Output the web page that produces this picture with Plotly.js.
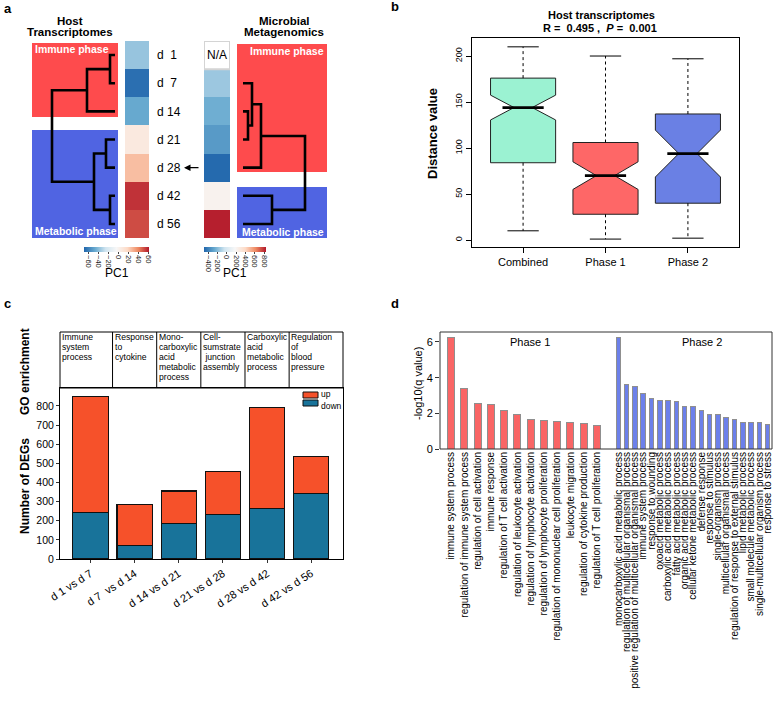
<!DOCTYPE html>
<html><head><meta charset="utf-8">
<script src="https://cdn.plot.ly/plotly-3.0.1.min.js"></script>
<style>html,body{margin:0;padding:0;background:#fff}#chart{width:778px;height:701px}</style>
</head><body><div id="chart"></div>
<script>
// ================= DATA =================
// Panel a
const days = ['d\u00a0\u00a01','d\u00a0\u00a07','d 14','d 21','d 28','d 42','d 56'];
const hostPC1 = [-38,-67,-48,7,26,57,52];
const microPC1 = [null,-159,-253,-319,-480,215,830];
// hclust-style merges: negative = leaf (row index + 1), positive = earlier merge step
const hostMergeA = [-1,-6,-4,1,3,4];
const hostMergeB = [-2,-7,-5,-3,2,5];
const hostMergeH = [5,5,9,28,21,63];
const microMergeA = [-3,-2,2,-6,3];
const microMergeB = [-4,1,-5,-7,4];
const microMergeH = [5,9,18,29,62];
const hostTicks = [-60,-40,-20,0,20,40,60];
const microTicks = [-400,-200,0,200,400,600,800];

// Panel b
const boxGroups = ['Combined','Phase 1','Phase 2'];
const boxLower = [10,1,2];
const boxQ1 = [84,28,40];
const boxMedian = [144,70,94];
const boxQ3 = [176,106,137];
const boxUpper = [210,200,197];
const boxNotch = [13.5,15,25.5];
const boxTicks = [0,50,100,150,200];

// Panel c
const degPairs = ['d 1 vs d 7','d 7\u00a0\u00a0vs d 14','d 14 vs d 21','d 21 vs d 28','d 28 vs d 42','d 42 vs d 56'];
const degDown = [244,72,187,234,265,342];
const degUp = [607,211,169,223,525,193];
const goTerms = [['Immune','system','process'],['Response','to','cytokine'],['Mono-','carboxylic','acid','metabolic','process'],['Cell-','sumstrate','\u00a0junction','assembly'],['Carboxylic','acid','metabolic','process'],['Regulation','of','blood','pressure']];

// Panel d
const phase1Terms = ['immune system process','regulation of immune system process','regulation of cell activation','immune response','regulation of T cell activation','regulation of leukocyte activation','regulation of lymphocyte activation','regulation of lymphocyte proliferation','regulation of mononuclear cell proliferation','leukocyte migration','regulation of cytokine production','regulation of T cell proliferation'];
const phase1Q = [6.24,3.40,2.55,2.52,2.14,1.91,1.64,1.62,1.56,1.47,1.41,1.30];
const phase2Terms = ['monocarboxylic acid metabolic process','regulation of multicellular organismal process','positive regulation of multicellular organismal process','immune system process','response to wounding','oxoacid metabolic process','carboxylic acid metabolic process','fatty acid metabolic process','organic acid metabolic process','cellular ketone metabolic process','defense response','response to stimulus','single-organism process','multicellular organismal process','regulation of response to external stimulus','lipid metabolic process','small molecule metabolic process','single-multicellular organism process','response to stress'];
const phase2Q = [6.24,3.62,3.49,3.12,2.84,2.70,2.70,2.66,2.38,2.38,2.14,1.95,1.95,1.75,1.67,1.51,1.51,1.47,1.36];

// ================= HELPERS =================
const W = 778, H = 701;
const px = v => v / W;
const py = v => 1 - v / H;
const domX = (a, b) => [px(a), px(b)];
const domY = (a, b) => [py(b), py(a)];
const FONT = 'Liberation Sans, Arial, Helvetica, sans-serif';
const RDBU = [[0,'#2166ac'],[1/6,'#67a9cf'],[2/6,'#d1e5f0'],[0.5,'#f7f7f7'],[4/6,'#fddbc7'],[5/6,'#ef8a62'],[1,'#b2182b']];

function dendro(A, B, Hs) {
  const nodeY = [], nodeH = [], xs = [], ys = [];
  const pos = id => id < 0 ? {y: -id - 1, h: 0} : {y: nodeY[id - 1], h: nodeH[id - 1]};
  for (let k = 0; k < A.length; k++) {
    const a = pos(A[k]), b = pos(B[k]), h = Hs[k];
    xs.push(a.h, h, h, b.h, null);
    ys.push(a.y, a.y, b.y, b.y, null);
    nodeY.push((a.y + b.y) / 2); nodeH.push(h);
  }
  return {xs, ys};
}

const annotations = [];
function ann(text, x, y, o) {
  annotations.push(Object.assign({text, x: px(x), y: py(y), xref: 'paper', yref: 'paper',
    showarrow: false, xanchor: 'center', yanchor: 'middle',
    font: {family: FONT, size: 11, color: '#000'}}, o || {}));
}
const shapes = [];
function prect(x0, y0, x1, y1, o) {
  shapes.push(Object.assign({type: 'rect', xref: 'paper', yref: 'paper', x0: px(x0), x1: px(x1), y0: py(y0), y1: py(y1)}, o));
}

const traces = [];

// ================= PANEL A =================
const hd = dendro(hostMergeA, hostMergeB, hostMergeH);
traces.push({type: 'scatter', mode: 'lines', x: hd.xs, y: hd.ys, xaxis: 'x', yaxis: 'y',
  line: {color: '#000', width: 2.6}, hoverinfo: 'skip', connectgaps: false});
const md = dendro(microMergeA, microMergeB, microMergeH);
traces.push({type: 'scatter', mode: 'lines', x: md.xs, y: md.ys, xaxis: 'x4', yaxis: 'y',
  line: {color: '#000', width: 2.6}, hoverinfo: 'skip', connectgaps: false});

const cbBase = {orientation: 'h', xanchor: 'center', y: py(247), yanchor: 'top',
  lenmode: 'pixels', thickness: 5, outlinewidth: 0, xpad: 0, ypad: 0,
  tickmode: 'array', tickangle: 90, ticks: 'outside', ticklen: 2, tickcolor: '#444',
  ticklabeloverflow: 'allow', tickfont: {family: FONT, size: 7.5, color: '#222'}};
traces.push({type: 'heatmap', x: [0], y: days.map((d, i) => i), z: hostPC1.map(v => [v]),
  xaxis: 'x2', yaxis: 'y', colorscale: RDBU, zmin: -70, zmax: 62, hoverinfo: 'skip',
  colorbar: Object.assign({}, cbBase, {x: px(116.5), len: 65, tickvals: hostTicks})});
traces.push({type: 'heatmap', x: [0], y: days.map((d, i) => i), z: microPC1.map(v => [v]),
  xaxis: 'x3', yaxis: 'y', colorscale: RDBU, zmin: -493, zmax: 843, hoverinfo: 'skip',
  colorbar: Object.assign({}, cbBase, {x: px(235), len: 62, tickvals: microTicks})});

// phase rectangles
prect(32, 43, 118, 117, {fillcolor: '#fe4b4d', line: {width: 0}, layer: 'below'});
prect(32, 130, 118, 238, {fillcolor: '#5064e2', line: {width: 0}, layer: 'below'});
prect(237, 44, 327, 172, {fillcolor: '#fe4b4d', line: {width: 0}, layer: 'below'});
prect(237, 187, 327, 238, {fillcolor: '#5064e2', line: {width: 0}, layer: 'below'});
// N/A cell
shapes.push({type: 'rect', xref: 'x3', yref: 'y', x0: -0.5, x1: 0.5, y0: -0.5, y1: 0.5,
  fillcolor: '#fff', line: {color: '#d4d4d4', width: 2}});
annotations.push({text: 'N/A', xref: 'x3', yref: 'y', x: 0, y: 0, showarrow: false,
  font: {family: FONT, size: 12, color: '#000'}});
// arrow
annotations.push({text: '', xref: 'paper', yref: 'y', x: px(184), y: 4, ax: 16, ay: 0,
  axref: 'pixel', ayref: 'pixel', showarrow: true, arrowhead: 2, arrowsize: 1, arrowwidth: 1.3, arrowcolor: '#000'});

const whiteB = {family: FONT, size: 10.5, color: '#fff'};
ann('<b>Immune phase</b>', 33, 49, {xanchor: 'left', font: whiteB});
ann('<b>Metabolic phase</b>', 33, 231, {xanchor: 'left', font: whiteB});
ann('<b>Immune phase</b>', 326, 51, {xanchor: 'right', font: whiteB});
ann('<b>Metabolic phase</b>', 326, 232, {xanchor: 'right', font: whiteB});
ann('<b>Host</b>', 70, 21, {font: {family: FONT, size: 11.5, color: '#000'}});
ann('<b>Transcriptomes</b>', 70, 32, {font: {family: FONT, size: 11.5, color: '#000'}});
ann('<b>Microbial</b>', 284, 21, {font: {family: FONT, size: 11.5, color: '#000'}});
ann('<b>Metagenomics</b>', 284, 32, {font: {family: FONT, size: 11.5, color: '#000'}});
ann('PC1', 116.5, 273, {font: {family: FONT, size: 12, color: '#000'}});
ann('PC1', 235, 273, {font: {family: FONT, size: 12, color: '#000'}});

// panel letters
const letF = {family: FONT, size: 13, color: '#000'};
ann('<b>a</b>', 8, 8, {font: letF});
ann('<b>b</b>', 395, 7, {font: letF});
ann('<b>c</b>', 7, 303, {font: letF});
ann('<b>d</b>', 395, 303, {font: letF});

// ================= PANEL B =================
const boxColors = ['#9bf2d2', '#fe6767', '#6a80e4'];
const capHalf = 0.19, medHalf = 0.25;
boxGroups.forEach((g, i) => {
  traces.push({type: 'box', x: [i], q1: [boxQ1[i]], median: [boxMedian[i]], q3: [boxQ3[i]],
    lowerfence: [boxQ1[i]], upperfence: [boxQ3[i]], notchspan: [boxNotch[i]], notched: true,
    notchwidth: 0.36, width: 0.79, whiskerwidth: 0, fillcolor: boxColors[i],
    line: {color: '#222', width: 1}, xaxis: 'x5', yaxis: 'y5', hoverinfo: 'skip', boxpoints: false});
  traces.push({type: 'scatter', mode: 'lines', xaxis: 'x5', yaxis: 'y5', hoverinfo: 'skip',
    x: [i, i, null, i, i], y: [boxQ3[i], boxUpper[i], null, boxQ1[i], boxLower[i]],
    line: {color: '#000', width: 1, dash: '3px,3px'}});
  traces.push({type: 'scatter', mode: 'lines', xaxis: 'x5', yaxis: 'y5', hoverinfo: 'skip',
    x: [i - capHalf, i + capHalf, null, i - capHalf, i + capHalf],
    y: [boxUpper[i], boxUpper[i], null, boxLower[i], boxLower[i]],
    line: {color: '#000', width: 1}});
  traces.push({type: 'scatter', mode: 'lines', xaxis: 'x5', yaxis: 'y5', hoverinfo: 'skip',
    x: [i - medHalf, i + medHalf], y: [boxMedian[i], boxMedian[i]],
    line: {color: '#000', width: 2.8}});
});
ann('<b>Host transcriptomes</b>', 601, 15, {font: {family: FONT, size: 11, color: '#000'}});
ann('<b>R =\u00a0 0.495 ,\u00a0 <i>P</i> =\u00a0 0.001</b>', 600, 28, {font: {family: FONT, size: 11, color: '#000'}});
ann('<b>Distance value</b>', 432, 134, {textangle: -90, font: {family: FONT, size: 13, color: '#000'}});

// ================= PANEL C =================
traces.push({type: 'bar', x: degPairs.map((d, i) => i), y: degDown, width: 0.8, xaxis: 'x6', yaxis: 'y6',
  marker: {color: '#18739a', line: {color: '#111', width: 1.2}}, hoverinfo: 'skip', name: 'down'});
traces.push({type: 'bar', x: degPairs.map((d, i) => i), y: degUp, width: 0.8, xaxis: 'x6', yaxis: 'y6',
  marker: {color: '#f6512a', line: {color: '#111', width: 1.2}}, hoverinfo: 'skip', name: 'up'});
// GO table
prect(60, 332, 343, 388, {line: {color: '#000', width: 1}, fillcolor: 'rgba(0,0,0,0)'});
goTerms.forEach((lines, i) => {
  if (i > 0) shapes.push({type: 'line', xref: 'x6', yref: 'paper', x0: i - 0.5, x1: i - 0.5,
    y0: py(332), y1: py(388), line: {color: '#000', width: 1}});
  lines.forEach((t, k) => {
    annotations.push({text: t, xref: 'x6', yref: 'paper', x: i === 0 ? -0.66 : i - 0.47,
      y: py(337 + k * 10), xanchor: 'left', yanchor: 'middle', showarrow: false, borderpad: 0,
      font: {family: FONT, size: 8.6, color: '#000'}});
  });
});
// manual legend
prect(303, 392, 318, 398, {fillcolor: '#f6512a', line: {color: '#111', width: 1}});
prect(303, 400, 318, 406, {fillcolor: '#18739a', line: {color: '#111', width: 1}});
ann('up', 320, 399.5, {xanchor: 'left', yanchor: 'bottom', borderpad: 0, font: {family: FONT, size: 8.5, color: '#000'}});
ann('down', 320, 399.5, {xanchor: 'left', yanchor: 'top', borderpad: 0, font: {family: FONT, size: 8.5, color: '#000'}});
ann('<b>GO enrichment</b>', 25, 372, {textangle: -90, font: {family: FONT, size: 12, color: '#000'}});
ann('<b>Number of DEGs</b>', 25, 486, {textangle: -90, font: {family: FONT, size: 12, color: '#000'}});

// ================= PANEL D =================
traces.push({type: 'bar', x: phase1Terms, y: phase1Q, width: 0.53, xaxis: 'x7', yaxis: 'y7',
  marker: {color: '#f96565', line: {color: '#8f8f8f', width: 1}}, hoverinfo: 'skip'});
traces.push({type: 'bar', x: phase2Terms, y: phase2Q, width: 0.55, xaxis: 'x8', yaxis: 'y7',
  marker: {color: '#6c80ea', line: {color: '#8f8f8f', width: 1}}, hoverinfo: 'skip'});
prect(440, 332, 772, 449, {line: {color: '#333', width: 1}, fillcolor: 'rgba(0,0,0,0)'});
ann('Phase 1', 530, 342, {font: {family: FONT, size: 11, color: '#000'}});
ann('Phase 2', 702, 342, {font: {family: FONT, size: 11, color: '#000'}});
ann('-log10(q value)', 418, 384, {textangle: -90, font: {family: FONT, size: 11, color: '#000'}});

// ================= LAYOUT =================
const hidden = {visible: false, showgrid: false, zeroline: false, fixedrange: true};
const layout = {
  width: W, height: H, margin: {l: 0, r: 0, t: 0, b: 0},
  paper_bgcolor: '#fff', plot_bgcolor: 'rgba(0,0,0,0)', showlegend: false,
  font: {family: FONT, color: '#000'}, barmode: 'stack',
  xaxis: Object.assign({}, hidden, {domain: domX(32, 118), range: [83, -3], anchor: 'y'}),
  xaxis2: Object.assign({}, hidden, {domain: domX(125, 149), range: [-0.5, 0.5], anchor: 'y'}),
  xaxis3: Object.assign({}, hidden, {domain: domX(204, 230), range: [-0.5, 0.5], anchor: 'y'}),
  xaxis4: Object.assign({}, hidden, {domain: domX(237, 327), range: [-6, 84], anchor: 'y'}),
  yaxis: {domain: domY(41, 238), range: [6.5, -0.5], anchor: 'x2', side: 'right', showgrid: false,
    zeroline: false, showline: false, ticks: '', tickmode: 'array', tickvals: days.map((d, i) => i),
    ticktext: days, ticklabelstandoff: 7, tickfont: {family: FONT, size: 12, color: '#000'}},
  xaxis5: {domain: domX(472, 739), range: [-0.62, 2.62], anchor: 'y5', tickmode: 'array',
    tickvals: [0, 1, 2], ticktext: boxGroups, ticks: 'outside', ticklen: 5, tickcolor: '#000',
    showline: true, mirror: true, linecolor: '#000', linewidth: 1, showgrid: false, zeroline: false,
    tickfont: {family: FONT, size: 11, color: '#000'}},
  yaxis5: {domain: domY(38, 247), range: [-7.6, 219.6], anchor: 'x5', tickmode: 'array', tickvals: boxTicks,
    ticks: 'outside', ticklen: 5, tickcolor: '#000', tickangle: -90, showline: true, mirror: true,
    linecolor: '#000', linewidth: 1, showgrid: false, zeroline: false,
    tickfont: {family: FONT, size: 9, color: '#000'}},
  xaxis6: {domain: domX(60, 343), range: [-0.69, 5.72], anchor: 'y6', tickmode: 'array',
    tickvals: degPairs.map((d, i) => i), ticktext: degPairs, ticks: 'outside', ticklen: 3, tickcolor: '#333',
    tickangle: -33, showline: true, mirror: true, linecolor: '#000', linewidth: 1, showgrid: false,
    zeroline: false, tickfont: {family: FONT, size: 11, color: '#000'}},
  yaxis6: {domain: domY(388, 559), range: [0, 894], anchor: 'x6', dtick: 100, tick0: 0,
    ticks: 'outside', ticklen: 3, tickcolor: '#333', showline: true, mirror: true, linecolor: '#000',
    linewidth: 1, showgrid: false, zeroline: false, tickfont: {family: FONT, size: 10.5, color: '#000'}},
  xaxis7: {domain: domX(440, 610), range: [-0.83, 11.98], anchor: 'y7', type: 'category',
    tickmode: 'linear', tick0: 0, dtick: 1, tickangle: -90, ticks: '', showline: false, showgrid: false,
    zeroline: false, tickfont: {family: FONT, size: 10, color: '#000'}},
  xaxis8: {domain: domX(610, 772), range: [-1.0, 18.52], anchor: 'y7', type: 'category',
    tickmode: 'linear', tick0: 0, dtick: 1, tickangle: -90, ticks: '', showline: false, showgrid: false,
    zeroline: false, tickfont: {family: FONT, size: 10, color: '#000'}},
  yaxis7: {domain: domY(332, 449), range: [0, 6.56], anchor: 'x7', tickmode: 'array', tickvals: [0, 2, 4, 6],
    ticks: 'outside', ticklen: 4, tickcolor: '#333', showline: false, showgrid: false, zeroline: false,
    tickfont: {family: FONT, size: 11, color: '#000'}},
  shapes, annotations
};

Plotly.newPlot('chart', traces, layout, {staticPlot: true, displayModeBar: false});
</script></body></html>
